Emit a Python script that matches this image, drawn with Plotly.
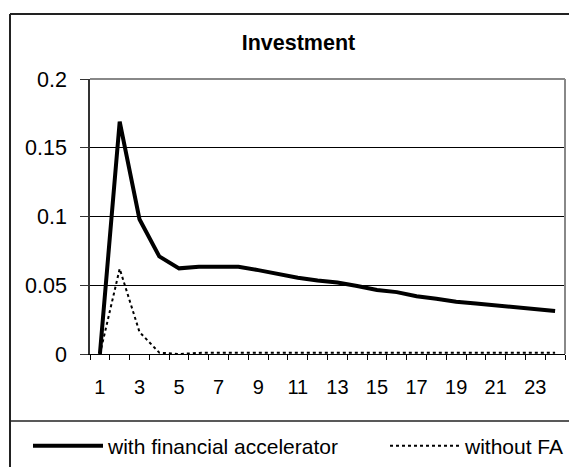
import plotly.graph_objects as go

# impulse responses of investment, periods 1..24
periods = list(range(1, 25))
with_fa = [0.0, 0.169, 0.098, 0.071, 0.0623, 0.0635, 0.0635, 0.0635, 0.061, 0.058,
           0.0555, 0.0535, 0.052, 0.0495, 0.0465, 0.045, 0.042, 0.0402, 0.038,
           0.0368, 0.0356, 0.0344, 0.033, 0.0313]
without_fa = [0.0, 0.062, 0.016, 0.001, 0.0, 0.0008, 0.001, 0.001, 0.001, 0.001,
              0.001, 0.001, 0.001, 0.001, 0.001, 0.001, 0.001, 0.001, 0.001,
              0.001, 0.001, 0.001, 0.001, 0.001]
x_labels = [str(p) for p in periods]
x_ticktext = [str(p) if p % 2 == 1 else "" for p in periods]
y_ticks = [0, 0.05, 0.1, 0.15, 0.2]

FONT = "Liberation Sans, Arial, sans-serif"

fig = go.Figure()
fig.add_trace(go.Scatter(x=x_labels, y=with_fa, mode="lines",
                         name="with financial accelerator",
                         line=dict(color="black", width=4), legend="legend"))
fig.add_trace(go.Scatter(x=x_labels, y=without_fa, mode="lines",
                         name="without FA",
                         line=dict(color="black", width=2, dash="dot"),
                         legend="legend2"))

# plot area: left 90, right 565, top 79, bottom 354 (px)
L, R, T, B = 90, 565, 79, 354
W, H = 569, 467
pw, ph = R - L, B - T


def px_x(v):
    return (v - L) / pw


def px_y(v):
    return (B - v) / ph


shapes = [
    # outer chart border (left + top only, the rest runs off the page)
    dict(type="line", xref="paper", yref="paper",
         x0=px_x(10), x1=px_x(10), y0=px_y(480), y1=px_y(14),
         line=dict(color="#222222", width=2)),
    dict(type="line", xref="paper", yref="paper",
         x0=px_x(10), x1=px_x(580), y0=px_y(14), y1=px_y(14),
         line=dict(color="#222222", width=2)),
    # separator above legend
    dict(type="line", xref="paper", yref="paper",
         x0=px_x(10), x1=px_x(580), y0=px_y(421), y1=px_y(421),
         line=dict(color="#222222", width=1.5)),
    # plot area top / right border
    dict(type="line", xref="paper", yref="paper",
         x0=0, x1=1, y0=1, y1=1, line=dict(color="#888888", width=2)),
    dict(type="line", xref="paper", yref="paper",
         x0=1, x1=1, y0=0, y1=1, line=dict(color="#888888", width=2)),
]

legend_common = dict(orientation="h", y=px_y(446), xanchor="left",
                     yanchor="middle", itemwidth=70, bgcolor="rgba(0,0,0,0)",
                     font=dict(size=21))

fig.update_layout(
    width=W, height=H,
    margin=dict(l=L, r=W - R, t=T, b=H - B, autoexpand=False),
    paper_bgcolor="white", plot_bgcolor="white",
    font=dict(family=FONT, size=21, color="black"),
    title=dict(text="<b>Investment</b>", x=298.5 / W, xref="container",
               y=1 - 42 / H, yref="container", xanchor="center", yanchor="middle",
               font=dict(size=21.5)),
    shapes=shapes,
    showlegend=True,
    legend=dict(x=px_x(28), **legend_common),
    legend2=dict(x=px_x(385), **legend_common),
)

fig.update_xaxes(type="category", range=[-0.5, 23.5], tickmode="array",
                 tickvals=x_labels, ticktext=x_ticktext, tickson="boundaries",
                 ticks="outside", ticklen=5, tickcolor="black", tickangle=0,
                 showline=True, linecolor="black", linewidth=1, showgrid=False,
                 ticklabelstandoff=15, tickfont=dict(size=20))
fig.update_yaxes(range=[0, 0.2], tickmode="array", tickvals=y_ticks,
                 ticks="outside", ticklen=8, tickcolor="#333333",
                 showline=True, linecolor="#333333", linewidth=1.5,
                 showgrid=True, gridcolor="black", gridwidth=1,
                 zeroline=False, ticklabelstandoff=9, tickfont=dict(size=21.5))

fig.write_html("out.html", config={"displayModeBar": False},
               post_script="document.body.style.margin='0';"
                           "document.body.style.overflow='hidden';")
